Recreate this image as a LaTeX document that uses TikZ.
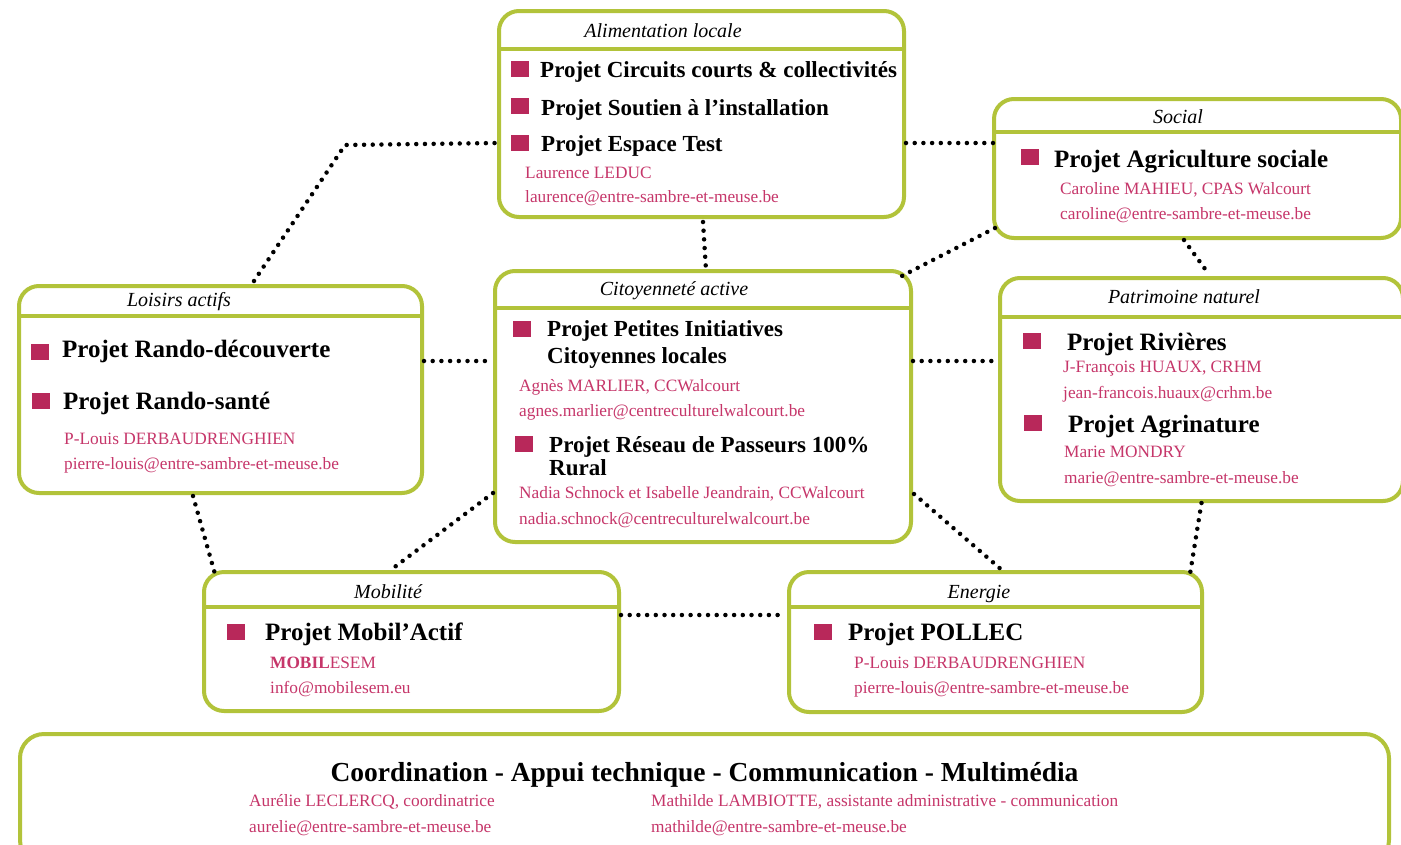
\documentclass[tikz,border=0pt]{standalone}
\usepackage{fontspec}
\setmainfont{Liberation Serif}
\definecolor{leaf}{RGB}{178,195,58}
\definecolor{crim}{RGB}{184,40,90}
\definecolor{pinktxt}{RGB}{198,54,106}
\newcommand\myttlfont{\itshape\fontsize{20}{24}\selectfont}
\newcommand\myprojA{\bfseries\fontsize{23}{27}\selectfont}
\newcommand\myprojB{\bfseries\fontsize{25}{29}\selectfont}
\newcommand\myinfo{\fontsize{17.3}{21}\selectfont}
\newcommand\mycoord{\bfseries\fontsize{27.5}{32}\selectfont}
\tikzset{
  box/.style={draw=leaf, line width=4pt, rounded corners=20pt, inner sep=0pt, outer sep=0pt, anchor=north west, fill=white},
  hdr/.style={draw=leaf, line width=4pt},
  ttl/.style={font=\myttlfont, anchor=base, inner sep=0pt},
  projA/.style={font=\myprojA, anchor=base west, inner sep=0pt},
  projB/.style={font=\myprojB, anchor=base west, inner sep=0pt},
  info/.style={font=\myinfo, text=pinktxt, anchor=base west, inner sep=0pt},
  sq/.style={fill=crim, minimum width=18pt, minimum height=16pt, inner sep=0pt, anchor=south west},
  link/.style={draw=black, line width=4.5pt, dash pattern=on 0pt off 8.7pt, line cap=round}
}
\begin{document}
\begin{tikzpicture}[x=1pt,y=-1pt]
\useasboundingbox (0,0) rectangle (1401,844);
\fill[white] (0,0) rectangle (1401,844);

% boxes
\node[box, minimum width=405pt, minimum height=206pt] (alim) at (499,11) {};
\node[box, minimum width=407pt, minimum height=139pt] (social) at (994,99) {};
\node[box, minimum width=403pt, minimum height=207pt] (lois) at (19,286) {};
\node[box, minimum width=416pt, minimum height=271pt] (cit) at (495,271) {};
\node[box, minimum width=403pt, minimum height=223pt] (patr) at (1000,278) {};
\node[box, minimum width=415pt, minimum height=139pt] (mob) at (204,572) {};
\node[box, minimum width=413pt, minimum height=140pt] (ener) at (789,572) {};
\node[box, minimum width=1369pt, minimum height=130pt, rounded corners=24pt] (coord) at (20,734) {};

% header lines
\draw[hdr] (alim.west |- 0,49) -- (alim.east |- 0,49);
\draw[hdr] (social.west |- 0,132) -- (social.east |- 0,132);
\draw[hdr] (lois.west |- 0,316) -- (lois.east |- 0,316);
\draw[hdr] (cit.west |- 0,308) -- (cit.east |- 0,308);
\draw[hdr] (patr.west |- 0,317) -- (patr.east |- 0,317);
\draw[hdr] (mob.west |- 0,607) -- (mob.east |- 0,607);
\draw[hdr] (ener.west |- 0,607) -- (ener.east |- 0,607);

% titles
\node[ttl] (alimT) at (663,37) {Alimentation locale};
\node[ttl] (socialT) at (1178,123) {Social};
\node[ttl] (loisT) at (179,306) {Loisirs actifs};
\node[ttl] (citT) at (674,295) {Citoyenneté active};
\node[ttl] (patrT) at (1184,303) {Patrimoine naturel};
\node[ttl] (mobT) at (388,598) {Mobilité};
\node[ttl] (enerT) at (979,598) {Energie};

% Alimentation locale
\node[sq] (aq1) at (511,77) {};
\node[projA] (a1) at (540,77) {Projet Circuits courts \& collectivités};
\node[sq] (aq2) at (511,114) {};
\node[projA] (a2) at (541,115) {Projet Soutien à l’installation};
\node[sq] (aq3) at (511,151) {};
\node[projA] (a3) at (541,151) {Projet Espace Test};
\node[info] (a4) at (525,178) {Laurence LEDUC};
\node[info] (a5) at (525,202) {laurence@entre-sambre-et-meuse.be};

% Social
\node[sq] (sq1) at (1021,165) {};
\node[projB] (s1) at (1054,167) {Projet Agriculture sociale};
\node[info] (s2) at (1060,194) {Caroline MAHIEU, CPAS Walcourt};
\node[info] (s3) at (1060,219) {caroline@entre-sambre-et-meuse.be};

% Loisirs actifs
\node[sq] (lq1) at (31,360) {};
\node[projB] (l1) at (62,357) {Projet Rando-découverte};
\node[sq] (lq2) at (32,409) {};
\node[projB] (l2) at (63,409) {Projet Rando-santé};
\node[info] (l3) at (64,444) {P-Louis DERBAUDRENGHIEN};
\node[info] (l4) at (64,469) {pierre-louis@entre-sambre-et-meuse.be};

% Citoyennete active
\node[sq] (cq1) at (513,337) {};
\node[projA] (c1) at (547,336) {Projet Petites Initiatives};
\node[projA] (c2) at (547,363) {Citoyennes locales};
\node[info] (c3) at (519,391) {Agnès MARLIER, CCWalcourt};
\node[info] (c4) at (519,416) {agnes.marlier@centreculturelwalcourt.be};
\node[sq] (cq2) at (515,452) {};
\node[projA] (c5) at (549,452) {Projet Réseau de Passeurs 100\%};
\node[projA] (c6) at (549,475) {Rural};
\node[info] (c7) at (519,498) {Nadia Schnock et Isabelle Jeandrain, CCWalcourt};
\node[info] (c8) at (519,524) {nadia.schnock@centreculturelwalcourt.be};

% Patrimoine naturel
\node[sq] (pq1) at (1023,349) {};
\node[projB] (p1) at (1067,350) {Projet Rivières};
\node[info] (p2) at (1063,372) {J-François HUAUX, CRHM};
\node[info] (p3) at (1063,398) {jean-francois.huaux@crhm.be};
\node[sq] (pq2) at (1024,431) {};
\node[projB] (p4) at (1068,432) {Projet Agrinature};
\node[info] (p5) at (1064,457) {Marie MONDRY};
\node[info] (p6) at (1064,483) {marie@entre-sambre-et-meuse.be};

% Mobilite
\node[sq] (mq1) at (227,640) {};
\node[projB] (m1) at (265,640) {Projet Mobil’Actif};
\node[info] (m2) at (270,668) {\textbf{MOBIL}ESEM};
\node[info] (m3) at (270,693) {info@mobilesem.eu};

% Energie
\node[sq] (eq1) at (814,640) {};
\node[projB] (e1) at (848,640) {Projet POLLEC};
\node[info] (e2) at (854,668) {P-Louis DERBAUDRENGHIEN};
\node[info] (e3) at (854,693) {pierre-louis@entre-sambre-et-meuse.be};

% Coordination
\node[font=\mycoord, anchor=base, inner sep=0pt] (k1) at (704.5,781) {Coordination - Appui technique - Communication - Multimédia};
\node[info] (k2) at (249,806) {Aurélie LECLERCQ, coordinatrice};
\node[info] (k3) at (249,832) {aurelie@entre-sambre-et-meuse.be};
\node[info] (k4) at (651,806) {Mathilde LAMBIOTTE, assistante administrative - communication};
\node[info] (k5) at (651,832) {mathilde@entre-sambre-et-meuse.be};

% connectors
\coordinate (bend) at (345,145);
\draw[link] ([xshift=235pt,yshift=5pt]lois.north west) -- (bend) -- ([xshift=-2pt,yshift=-29pt]alim.west);
\draw[link] ([xshift=2pt,yshift=-29pt]alim.east) -- ([xshift=-1pt,yshift=25.5pt]social.west);
\draw[link] ([xshift=1.5pt,yshift=-5pt]alim.south) -- ([xshift=3pt,yshift=1pt]cit.north);
\draw[link] ([xshift=1pt,yshift=10pt]social.south west) -- ([xshift=-11pt,yshift=-6pt]cit.north east);
\draw[link] ([xshift=-13.5pt,yshift=-2pt]social.south) -- ([xshift=6.5pt,yshift=5pt]patr.north);
\draw[link] ([xshift=2pt,yshift=28.5pt]lois.east) -- ([xshift=-2pt,yshift=45.5pt]cit.west);
\draw[link] ([xshift=2pt,yshift=45.5pt]cit.east) -- ([xshift=-2pt,yshift=28.5pt]patr.west);
\draw[link] ([xshift=-27.5pt,yshift=-3pt]lois.south) -- ([xshift=11pt,yshift=-2pt]mob.north west);
\draw[link] ([xshift=-2pt,yshift=49pt]cit.south west) -- ([xshift=-19.5pt,yshift=3pt]mob.north);
\draw[link] ([xshift=3pt,yshift=48pt]cit.south east) -- ([xshift=7.5pt,yshift=1pt]ener.north);
\draw[link] ([xshift=2pt,yshift=26.5pt]mob.east) -- ([xshift=-9pt,yshift=27pt]ener.west);
\draw[link] ([yshift=-2pt]patr.south) -- ([xshift=-12pt,yshift=-2pt]ener.north east);
\end{tikzpicture}
\end{document}
